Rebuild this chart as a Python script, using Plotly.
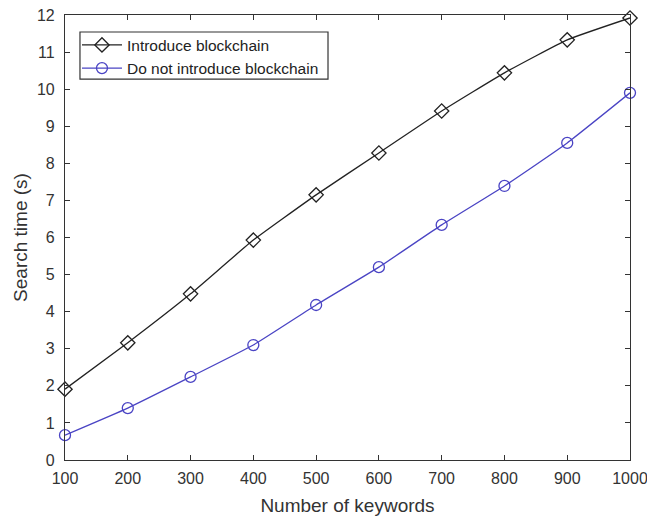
import plotly.graph_objects as go

keywords = [100, 200, 300, 400, 500, 600, 700, 800, 900, 1000]
with_blockchain = [1.91, 3.16, 4.48, 5.93, 7.15, 8.28, 9.41, 10.44, 11.33, 11.92]
without_blockchain = [0.67, 1.40, 2.24, 3.10, 4.18, 5.20, 6.34, 7.39, 8.55, 9.90]
x_ticks = [100, 200, 300, 400, 500, 600, 700, 800, 900, 1000]
y_ticks = list(range(0, 13))

FONT = "Liberation Sans, Arial"

fig = go.Figure()
fig.add_trace(go.Scatter(
    x=keywords, y=with_blockchain, mode="lines+markers",
    name="Introduce blockchain",
    line=dict(color="#222222", width=1.3, shape="spline", smoothing=0.4),
    marker=dict(symbol="diamond-open", size=11, color="#222222", line=dict(width=1.3)),
    cliponaxis=False,
))
fig.add_trace(go.Scatter(
    x=keywords, y=without_blockchain, mode="lines+markers",
    name="Do not introduce blockchain",
    line=dict(color="#4a44c4", width=1.3, shape="spline", smoothing=0.4),
    marker=dict(symbol="circle-open", size=11, color="#4a44c4", line=dict(width=1.3)),
    cliponaxis=False,
))

axis_common = dict(
    showgrid=False, zeroline=False, showline=True, linecolor="#333333", linewidth=1.2,
    mirror="ticks", ticks="inside", ticklen=5, tickcolor="#333333", automargin=False,
    ticklabeloverflow="allow",
    tickfont=dict(family=FONT, size=16, color="#333333"),
)
fig.update_xaxes(range=[100, 1000], tickvals=x_ticks, ticklabelstandoff=4,
                 title=dict(text="Number of keywords", font=dict(family=FONT, size=19, color="#333333"), standoff=12),
                 **axis_common)
fig.update_yaxes(range=[0, 12], tickvals=y_ticks, ticklabelstandoff=6,
                 title=dict(text="Search time (s)", font=dict(family=FONT, size=19, color="#333333"), standoff=4),
                 **axis_common)

# legend frame
fig.add_shape(type="rect", xref="paper", yref="paper",
              x0=0.0265, x1=0.4655, y0=0.856, y1=0.9618,
              line=dict(color="#333333", width=1.2), fillcolor="rgba(0,0,0,0)", layer="above")

fig.update_layout(
    width=647, height=517,
    margin=dict(l=65, r=17, t=15, b=57),
    plot_bgcolor="white", paper_bgcolor="white",
    legend=dict(x=0.0212, y=0.970, xanchor="left", yanchor="top",
                borderwidth=0, bgcolor="rgba(0,0,0,0)",
                font=dict(family=FONT, size=15.5, color="#222222"),
                tracegroupgap=0, itemwidth=40),
)

fig.write_html("out.html", config={"displayModeBar": False},
               post_script="document.body.style.margin='0';document.body.style.padding='0';")
